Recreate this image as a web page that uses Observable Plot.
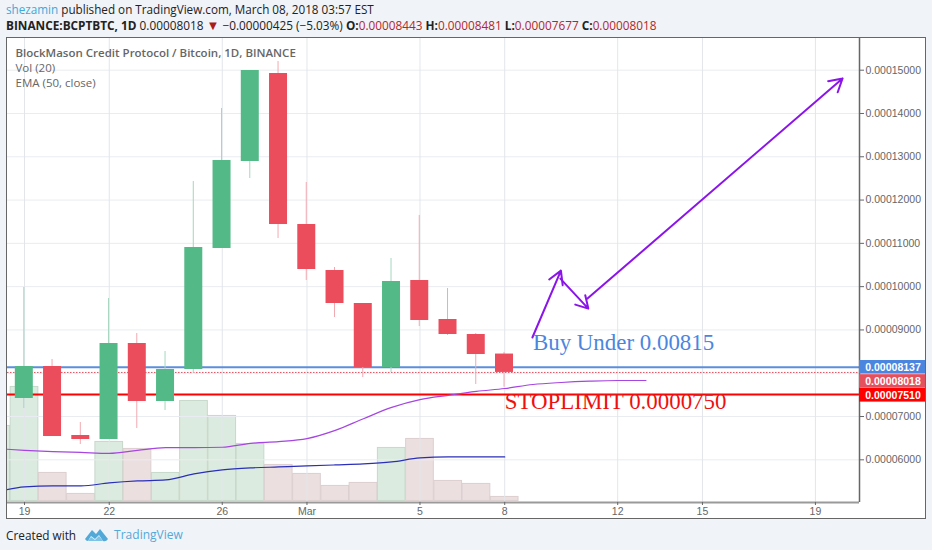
<!DOCTYPE html>
<html>
<head>
<meta charset="utf-8">
<script src="https://cdn.jsdelivr.net/npm/d3@7"></script>
<script src="https://cdn.jsdelivr.net/npm/@observablehq/plot@0.6"></script>
<style>
html,body{margin:0;padding:0;background:#f0f3f8;width:932px;height:550px;overflow:hidden;font-family:"Open Sans",sans-serif;}
#head{height:37px;position:relative;color:#222;white-space:nowrap;}
#head div{position:absolute;left:6px;line-height:15px;height:15px;}
#l1{top:2px;font-size:11.7px;}#l2{top:18px;font-size:11.8px;}
.who{color:#3fa9d9}.dn{color:#a81c1c;font-size:13px;line-height:10px;}.r{color:#b3262a}
#wrap{position:absolute;left:6px;top:37px;width:918px;height:480px;border:1px solid #666;background:#fff;}
#wrap svg{display:block;overflow:visible;}
#foot{position:absolute;left:6px;top:526px;font-size:11.8px;color:#222;display:flex;align-items:center;white-space:nowrap;}
#foot .tv{color:#52a9d8;font-size:12px;margin-left:6px;}
#foot svg{margin-left:9px;}
</style>
</head>
<body>
<div id="head">
<div id="l1"><span class="who">shezamin</span> published on TradingView.com, March 08, 2018 03:57 EST</div>
<div id="l2"><b>BINANCE:BCPTBTC, 1D</b> 0.00008018 <span class="dn">▼</span> −0.00000425 (−5.03%) <b>O:</b><span class="r">0.00008443</span> <b>H:</b><span class="r">0.00008481</span> <b>L:</b><span class="r">0.00007677</span> <b>C:</b><span class="r">0.00008018</span></div>
</div>
<div id="wrap"></div>
<div id="foot">Created with<svg width="23" height="14" viewBox="0 0 23 14"><path d="M0 11 L7 2 L11 6 L15 1 L23 11 Q21 14 18 13 L14 7 L10 11 L6 8 L3 13 Q1 13 0 11Z" fill="#52a9d8"/><path d="M3 13 L6 9 L10 12 L14 8 L18 13Z" fill="#7cc3e6"/></svg><span class="tv">TradingView</span></div>
<script>
// All prices in units of 0.00001 BTC
const dates  = ["02-19","02-20","02-21","02-22","02-23","02-24","02-25","02-26","02-27","02-28","03-01","03-02","03-03","03-04","03-05","03-06","03-07","03-08"];
const opens  = [7.416,8.155,6.562,6.469,8.687,7.347,8.086,10.881,12.891,14.924,11.436,10.373,9.611,8.132,10.142,9.241,8.895,8.443];
const closes = [8.155,6.538,6.469,8.687,7.347,8.086,10.904,12.914,14.993,11.436,10.396,9.611,8.132,10.119,9.218,8.895,8.433,8.018];
const highs  = [9.98,8.317,6.862,9.726,8.918,8.502,12.429,14.115,14.993,15.2,12.406,10.442,9.611,10.65,11.644,9.957,8.918,8.481];
const lows   = [7.185,6.538,6.354,6.469,6.723,7.139,7.994,10.881,12.498,11.112,10.142,9.287,7.901,8.017,9.079,8.872,7.74,7.677];

const volDates = ["02-18","02-19","02-20","02-21","02-22","02-23","02-24","02-25","02-26","02-27","02-28","03-01","03-02","03-03","03-04","03-05","03-06","03-07","03-08"];
const volumes  = [75,114,28,7,59,52,28,100,85,57,36,27,15,18,53,62,20,17,4];
const volUp    = [1,1,0,0,1,0,1,1,1,1,0,0,0,0,1,0,0,0,0];
const volMA    = [9,14,15,15,18,20,21,27,31,33,34,35,36,37,39,43,44,44,44];

const emaDates = ["02-18","02-19","02-20","02-21","02-22","02-23","02-24","02-25","02-26","02-27","02-28","03-01","03-02","03-03","03-04","03-05","03-06","03-07","03-08","03-09","03-10","03-11","03-12","03-13"];
const ema      = [6.26,6.22,6.19,6.17,6.15,6.22,6.28,6.28,6.29,6.38,6.42,6.49,6.68,6.95,7.21,7.39,7.49,7.58,7.647,7.74,7.786,7.816,7.832,7.832];

const priceTicks = [6,7,8,9,10,11,12,13,14,15];
const priceLabelTicks = [6,7,9,10,11,12,13,14,15];
const dateTicks  = ["02-19","02-22","02-26","03-01","03-05","03-08","03-12","03-15","03-19"];
const dateLabels = ["19","22","26","Mar","5","8","12","15","19"];

const lineValues = [8.137,8.018,7.510];
const tagCenters = [8.137,7.81,7.49];
const tagLabels = ["0.00008137","0.00008018","0.00007510"];
const tagColors = ["#4a86e0","#e5505f","#ff0000"];

// Hand-drawn arrows: March day and price at each end
const arrowX1 = [8.98,9.97,10.93];
const arrowY1 = [8.825,10.185,9.724];
const arrowX2 = [9.99,10.96,19.96];
const arrowY2 = [10.37,9.493,14.81];

const D = s => new Date(`2018-${s}T00:00:00Z`);
const DAY = 864e5;
const shift = (d,n) => new Date(+d + n*DAY);
const xDomain = [shift(D("02-19"),-0.602), shift(D("02-19"),29.56)];
const yDomain = [5.014,15.732];
const VOL0 = 5.05, VOLK = 1/43.29;
const volY = v => VOL0 + v*VOLK;

const candles = dates.map((d,i)=>({d:D(d),o:opens[i],c:closes[i],h:highs[i],l:lows[i],up:closes[i]>=opens[i]}));
const vols = volDates.map((d,i)=>({d:D(d),v:volumes[i],ma:volMA[i],up:!!volUp[i]}));
const emaRows = emaDates.map((d,i)=>({d:D(d),v:ema[i]}));
const marchDay = n => shift(D("03-01"),n-1);
const segs = arrowX1.map((_,i)=>({x1:marchDay(arrowX1[i]),y1:arrowY1[i],x2:marchDay(arrowX2[i]),y2:arrowY2[i]}));
const tags = tagCenters.map((v,i)=>({v,label:tagLabels[i],color:tagColors[i]}));
const tickDates = dateTicks.map(D);

const GREEN="#53b987", RED="#eb4d5c";
const legend = [{t:"BlockMason Credit Protocol / Bitcoin, 1D, BINANCE",dy:10,w:"600"},{t:"Vol (20)",dy:25,w:"400"},{t:"EMA (50, close)",dy:40,w:"400"}];

const chart = Plot.plot({
  width:918,height:480,marginLeft:0,marginRight:66,marginTop:0,marginBottom:16,
  style:{background:"#fff",fontFamily:'"Liberation Sans",sans-serif',fontSize:"10.5px",color:"#666"},
  x:{type:"utc",domain:xDomain},
  y:{domain:yDomain},
  marks:[
    Plot.rect(vols,{clip:true,x1:d=>shift(d.d,-0.49),x2:d=>shift(d.d,0.49),y1:VOL0,y2:d=>volY(d.v),
      fill:d=>d.up?"#dcebdf":"#ecdfe0",stroke:d=>d.up?"#c6d8ca":"#dccfd0"}),
    Plot.ruleY(priceTicks,{stroke:"#e9ecf0",strokeWidth:1}),
    Plot.ruleX(tickDates,{stroke:"#e2e6ea",strokeWidth:1}),
    Plot.line(vols,{clip:true,x:"d",y:d=>volY(d.ma),stroke:"#2a2fb8",strokeWidth:1.2,curve:"monotone-x"}),
    Plot.ruleY([lineValues[0]],{stroke:"#5b8fdd",strokeWidth:2}),
    Plot.ruleY([lineValues[1]],{stroke:"#e5505f",strokeWidth:1,strokeDasharray:"1.5,1.5"}),
    Plot.ruleY([lineValues[2]],{stroke:"#ff0000",strokeWidth:2}),
    Plot.ruleX(candles,{x:"d",y1:"l",y2:"h",dx:-0.7,stroke:d=>d.up?"#a6d6be":"#f2a9b1",strokeWidth:1}),
    Plot.ruleX(candles,{x:"d",y1:"o",y2:"c",dx:-0.7,stroke:d=>d.up?GREEN:RED,strokeWidth:18}),
    Plot.line(emaRows,{clip:true,x:"d",y:"v",stroke:"#a645e0",strokeWidth:1.2,curve:"monotone-x"}),
    Plot.arrow(segs,{x1:"x1",y1:"y1",x2:"x2",y2:"y2",stroke:"#8a14ea",strokeWidth:2,bend:0,headLength:11}),
    Plot.text(["Buy Under 0.00815"],{x:marchDay(9),y:8.706,text:d=>d,textAnchor:"start",fontFamily:'"Liberation Serif",serif',fontSize:22.9,fill:"#4a86e0"}),
    Plot.text(["STOPLIMIT 0.0000750"],{x:marchDay(8),y:7.335,text:d=>d,textAnchor:"start",fontFamily:'"Liberation Serif",serif',fontSize:22.9,fill:"#ee1111"}),
    ...legend.map(l=>Plot.text([l.t],{frameAnchor:"top-left",dx:8,dy:l.dy,text:d=>d,fill:"#666",fontFamily:'"Open Sans",sans-serif',fontSize:11.5,fontWeight:l.w})),
    Plot.ruleY([yDomain[0]],{stroke:"#9a9a9a",strokeWidth:2}),
    Plot.ruleX([xDomain[1]],{stroke:"#666",strokeWidth:1.5}),
    Plot.axisY(priceLabelTicks,{anchor:"right",tickSize:4,tickPadding:2,tickFormat:d=>(d*1e-5).toFixed(8),label:null,stroke:"#666",fill:"#666"}),
    Plot.axisX(tickDates,{anchor:"bottom",tickSize:3,tickPadding:2,tickFormat:d=>dateLabels[tickDates.findIndex(t=>+t===+d)],label:null,stroke:"#666",fill:"#666"}),
    Plot.rect(tags,{x1:xDomain[1],x2:shift(xDomain[1],2.34),y1:d=>d.v-0.157,y2:d=>d.v+0.157,fill:"color"}),
    Plot.text(tags,{x:shift(xDomain[1],1.186),y:"v",text:"label",fill:"#fff",fontWeight:"bold",fontSize:10.5})
  ]
});
document.getElementById("wrap").appendChild(chart);
</script>
</body>
</html>
